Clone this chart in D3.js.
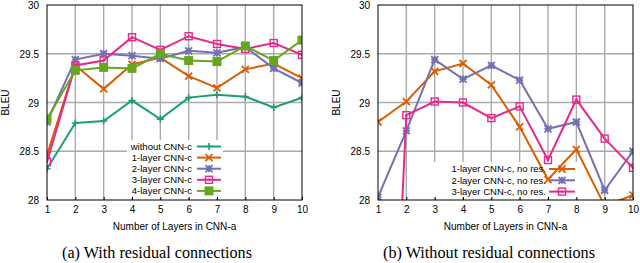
<!DOCTYPE html>
<html>
<head>
<meta charset="utf-8">
<script src="https://cdn.jsdelivr.net/npm/d3@7/dist/d3.min.js"></script>
<style>
  body { margin: 0; background: #fff; }
  text { font-family: "Liberation Sans", Arial, sans-serif; }
  text.caption { font-family: "Liberation Serif", "Times New Roman", serif; }
</style>
</head>
<body>
<div class="chartDiv"></div>
<script>
// layers in CNN-a
let layers = [1, 2, 3, 4, 5, 6, 7, 8, 9, 10];
let yTicks = [28, 28.5, 29, 29.5, 30];

// (a) with residual connections
let withoutCnnC = [28.32, 28.79, 28.81, 29.02, 28.83, 29.05, 29.08, 29.06, 28.95, 29.05];
let oneLayer    = [28.46, 29.38, 29.14, 29.39, 29.46, 29.27, 29.15, 29.34, 29.40, 29.25];
let twoLayer    = [28.80, 29.44, 29.50, 29.48, 29.45, 29.53, 29.51, 29.57, 29.35, 29.20];
let threeLayer  = [28.39, 29.38, 29.43, 29.67, 29.54, 29.68, 29.60, 29.55, 29.61, 29.49];
let fourLayer   = [28.83, 29.33, 29.36, 29.35, 29.50, 29.43, 29.42, 29.58, 29.43, 29.64];

// (b) without residual connections
let oneLayerNoRes   = [28.80, 29.01, 29.32, 29.40, 29.18, 28.75, 28.21, 28.52, 27.94, 28.05];
let twoLayerNoRes   = [28.03, 28.71, 29.44, 29.24, 29.38, 29.23, 28.73, 28.80, 28.10, 28.50];
let threeLayerNoRes = [22.70, 28.87, 29.01, 29.00, 28.84, 28.96, 28.41, 29.03, 28.63, 28.33];

let seriesA = [
  { name: "without CNN-c", values: withoutCnnC, color: "#1b9e77", pt: "plus" },
  { name: "1-layer CNN-c", values: oneLayer,    color: "#d95f02", pt: "cross" },
  { name: "2-layer CNN-c", values: twoLayer,    color: "#7570b3", pt: "star" },
  { name: "3-layer CNN-c", values: threeLayer,  color: "#e7298a", pt: "box" },
  { name: "4-layer CNN-c", values: fourLayer,   color: "#66a61e", pt: "fbox" }
];
let seriesB = [
  { name: "1-layer CNN-c, no res.", values: oneLayerNoRes,   color: "#d95f02", pt: "cross" },
  { name: "2-layer CNN-c, no res.", values: twoLayerNoRes,   color: "#7570b3", pt: "star" },
  { name: "3-layer CNN-c, no res.", values: threeLayerNoRes, color: "#e7298a", pt: "box" }
];

let svg = d3.select('.chartDiv')
            .append('svg')
            .attr('width', 640)
            .attr('height', 263);

let plotTop = 5, plotBottom = 200;

let drawMarker = (g, type, x, y, color) => {
  let s = 3.5;
  if (type === "plus") {
    g.append('path').attr('d', `M${x-s},${y}H${x+s}M${x},${y-s}V${y+s}`)
     .attr('stroke', color).attr('stroke-width', 1.6);
  } else if (type === "cross") {
    g.append('path').attr('d', `M${x-s},${y-s}L${x+s},${y+s}M${x-s},${y+s}L${x+s},${y-s}`)
     .attr('stroke', color).attr('stroke-width', 1.8);
  } else if (type === "star") {
    g.append('path').attr('d', `M${x-s},${y}H${x+s}M${x},${y-s}V${y+s}M${x-s},${y-s}L${x+s},${y+s}M${x-s},${y+s}L${x+s},${y-s}`)
     .attr('stroke', color).attr('stroke-width', 1.8);
  } else if (type === "box") {
    g.append('rect').attr('x', x-3.5).attr('y', y-3.5).attr('width', 7).attr('height', 7)
     .attr('fill', 'none').attr('stroke', color).attr('stroke-width', 1.4);
    g.append('rect').attr('x', x-1).attr('y', y-1).attr('width', 2).attr('height', 2)
     .attr('fill', color);
  } else if (type === "fbox") {
    g.append('rect').attr('x', x-4.5).attr('y', y-4.5).attr('width', 9).attr('height', 9)
     .attr('fill', color);
  }
};

let drawPanel = (left, right, series, caption, legendOpts, id) => {
  let xScale = d3.scaleLinear().domain([1, 10]).range([left, right]);
  let yScale = d3.scaleLinear().domain([28, 30]).range([plotBottom, plotTop]);

  let g = svg.append('g');

  svg.append('clipPath').attr('id', id)
     .append('rect').attr('x', left).attr('y', plotTop)
     .attr('width', right - left).attr('height', plotBottom - plotTop);

  // grid
  g.append('g').selectAll('line').data(layers.slice(1, -1)).join('line')
   .attr('x1', d => xScale(d)).attr('x2', d => xScale(d))
   .attr('y1', plotTop).attr('y2', plotBottom)
   .attr('stroke', '#aaaaaa').attr('stroke-width', 1.4);
  g.append('g').selectAll('line').data(yTicks.slice(1, -1)).join('line')
   .attr('x1', left).attr('x2', right)
   .attr('y1', d => yScale(d)).attr('y2', d => yScale(d))
   .attr('stroke', '#aaaaaa').attr('stroke-width', 1.4);

  // legend background
  g.append('rect')
   .attr('x', legendOpts.bx).attr('y', legendOpts.by)
   .attr('width', legendOpts.bw).attr('height', legendOpts.bh)
   .attr('fill', '#fff');

  // axes
  let bottomaxis = d3.axisBottom(xScale).tickValues(layers).tickSize(-3).tickPadding(6);
  let leftaxis = d3.axisLeft(yScale).tickValues(yTicks).tickSize(0).tickPadding(8)
                   .tickFormat(d => d);
  let ax = g.append('g').attr('transform', `translate(0, ${plotBottom})`).call(bottomaxis);
  let ay = g.append('g').attr('transform', `translate(${left}, 0)`).call(leftaxis);
  [ax, ay].forEach(a => {
    a.select('.domain').remove();
    a.selectAll('text').attr('font-size', 10).attr('fill', '#000');
    a.selectAll('line').attr('stroke', '#000');
  });
  ay.selectAll('text').attr('dy', '0.35em');

  // series
  let line = d3.line().x((d, i) => xScale(layers[i])).y(d => yScale(d));
  let dataG = g.append('g').attr('clip-path', `url(#${id})`);
  series.forEach(s => {
    dataG.append('path').attr('d', line(s.values))
         .attr('fill', 'none').attr('stroke', s.color).attr('stroke-width', 2);
    s.values.forEach((v, i) => drawMarker(dataG, s.pt, xScale(layers[i]), yScale(v), s.color));
  });

  // frame
  g.append('rect').attr('x', left).attr('y', plotTop)
   .attr('width', right - left).attr('height', plotBottom - plotTop)
   .attr('fill', 'none').attr('stroke', '#000').attr('stroke-width', 1);

  // legend
  series.forEach((s, i) => {
    let y = legendOpts.y0 + i * legendOpts.dy;
    g.append('text').attr('x', legendOpts.tx).attr('y', y).attr('dy', '0.35em')
     .attr('text-anchor', 'end').attr('font-size', 9.5).text(s.name);
    g.append('line').attr('x1', legendOpts.lx1).attr('x2', legendOpts.lx2)
     .attr('y1', y).attr('y2', y).attr('stroke', s.color).attr('stroke-width', 2);
    drawMarker(g, s.pt, (legendOpts.lx1 + legendOpts.lx2) / 2, y, s.color);
  });

  // axis titles
  g.append('text').attr('x', (left + right) / 2).attr('y', 230)
   .attr('text-anchor', 'middle').attr('font-size', 10).text('Number of Layers in CNN-a');
  g.append('text').attr('transform', `translate(${left - 38}, ${(plotTop + plotBottom) / 2}) rotate(-90)`)
   .attr('text-anchor', 'middle').attr('font-size', 10).text('BLEU');
  g.append('text').classed('caption', true)
   .attr('x', legendOpts.cx).attr('y', 258)
   .attr('text-anchor', 'middle').attr('font-size', 16)
   .attr('textLength', legendOpts.cw).attr('lengthAdjust', 'spacingAndGlyphs')
   .text(caption);
};

drawPanel(47, 302, seriesA, '(a) With residual connections',
  { bx: 127, by: 140, bw: 96, bh: 58, tx: 192, lx1: 197, lx2: 221, y0: 146.5, dy: 11.1, cx: 157, cw: 190 }, 'clipA');
drawPanel(378, 633, seriesB, '(b) Without residual connections',
  { bx: 430, by: 162, bw: 148, bh: 36, tx: 546, lx1: 549, lx2: 575, y0: 169, dy: 11.3, cx: 489, cw: 212 }, 'clipB');
</script>
</body>
</html>
